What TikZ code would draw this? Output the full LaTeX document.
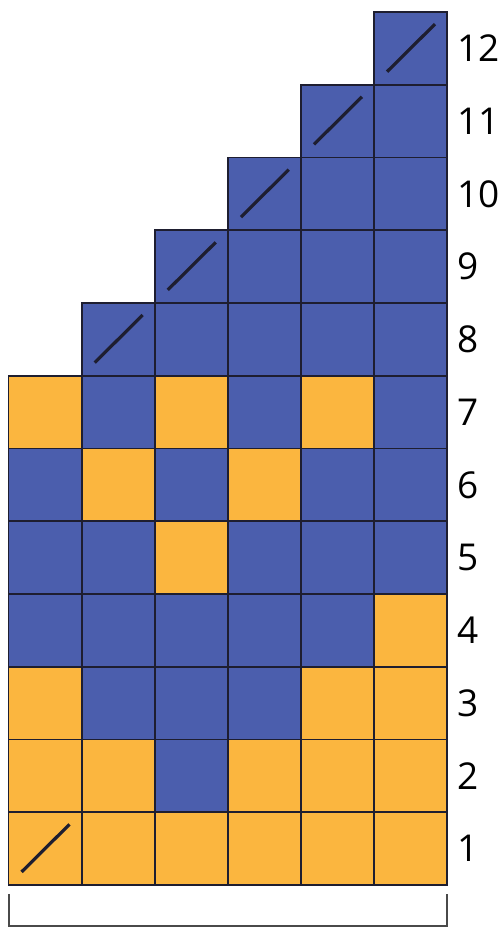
\documentclass[tikz,border=0pt]{standalone}
\usepackage{fontspec}
\setmainfont{Open Sans}
\definecolor{cellblue}{HTML}{4B5EAD}
\definecolor{cellyellow}{HTML}{FBB63F}
\definecolor{gridline}{HTML}{1E1E30}
\definecolor{bracketgray}{HTML}{4A4A4A}
\begin{document}
\begin{tikzpicture}[x=1pt,y=1pt,
  cell/.style={draw=gridline,line width=1.8pt,inner sep=0pt,
    minimum width=73.1pt,minimum height=72.75pt},
  cY/.style={fill=cellyellow},
  cB/.style={fill=cellblue},
  slash/.style={draw=gridline,line width=3.2pt},
  num/.style={anchor=west,inner sep=0pt,font=\fontsize{37}{40}\selectfont,text=black},
  bracket/.style={draw=bracketgray,line width=2pt}]
\useasboundingbox (0,0) rectangle (500,929);
\def\xo{8.5}\def\yo{44}\def\cw{73.1}\def\ch{72.75}
% rows 1-7
\foreach \r/\lst in {1/{Y,Y,Y,Y,Y,Y},2/{Y,Y,B,Y,Y,Y},3/{Y,B,B,B,Y,Y},
  4/{B,B,B,B,B,Y},5/{B,B,Y,B,B,B},6/{B,Y,B,Y,B,B},7/{Y,B,Y,B,Y,B}}{
  \foreach \col [count=\c] in \lst {
    \node[cell,c\col] (c-\r-\c) at ({\xo+(\c-0.5)*\cw},{\yo+(\r-0.5)*\ch}) {};
  }
}
% rows 8-12
\foreach \r in {8,...,12}{
  \pgfmathtruncatemacro{\s}{\r-6}
  \foreach \c in {\s,...,6}{
    \node[cell,cB] (c-\r-\c) at ({\xo+(\c-0.5)*\cw},{\yo+(\r-0.5)*\ch}) {};
  }
}
% slashes
\foreach \r/\c in {1/1,8/2,9/3,10/4,11/5,12/6}{
  \draw[slash] ([shift={(14pt,14pt)}]c-\r-\c.south west) -- ([shift={(-13pt,-13pt)}]c-\r-\c.north east);
}
% row numbers
\foreach \r in {1,...,12}{
  \node[num] (n\r) at (457,{\yo+(\r-0.5)*\ch}) {\r};
}
% bracket
\coordinate (bl) at (\xo,35);
\coordinate (br) at (446.5,35);
\draw[bracket] (bl) -- (bl |- 0,3) -- (br |- 0,3) -- (br);
\end{tikzpicture}
\end{document}
